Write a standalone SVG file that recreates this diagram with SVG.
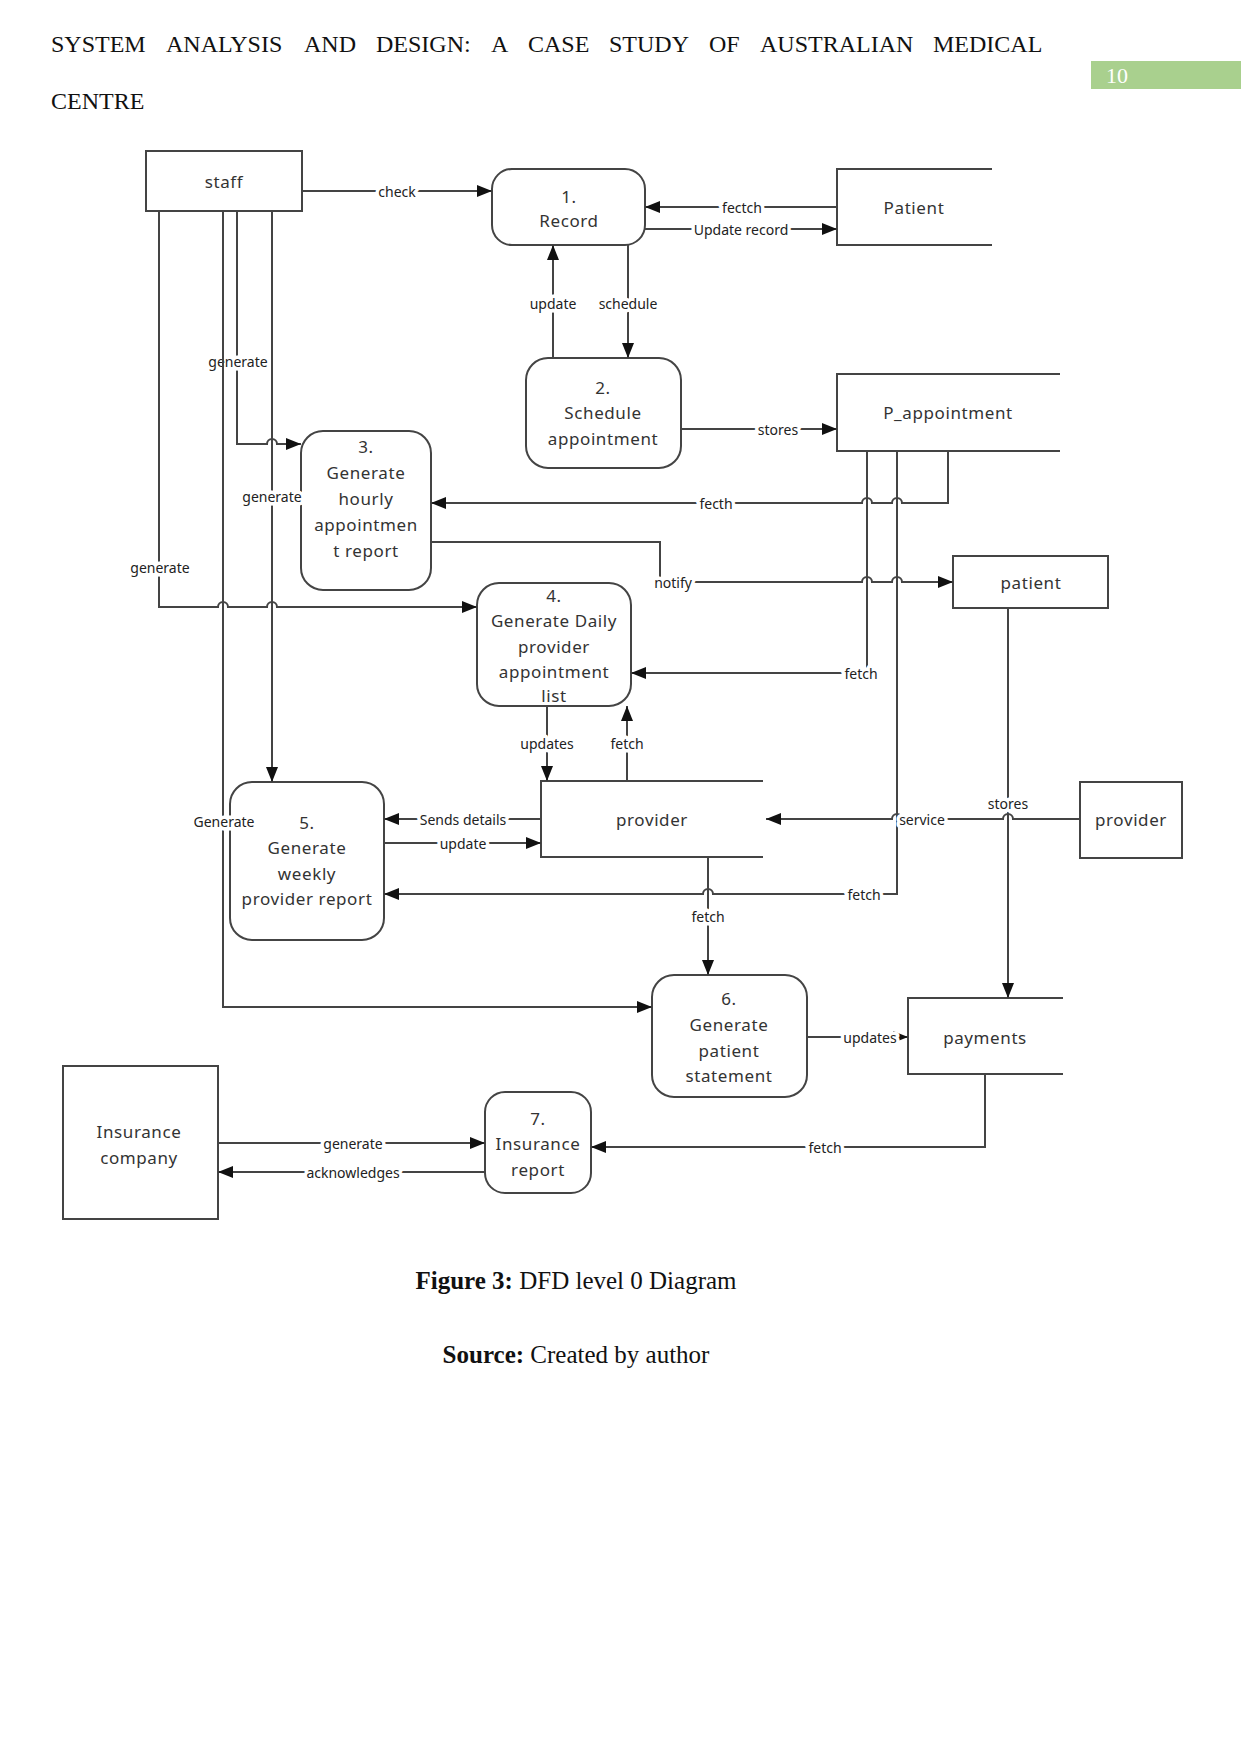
<svg xmlns="http://www.w3.org/2000/svg" width="1241" height="1754" viewBox="0 0 1241 1754">
<style>
.hdr{font-family:"Liberation Serif",serif;font-size:24px;fill:#111}
.cap{font-family:"Liberation Serif",serif;font-size:25px;fill:#111;text-anchor:middle}
.box{fill:#fff;stroke:#444;stroke-width:2}
.store{fill:none;stroke:#444;stroke-width:2}
.nt{font-family:"Noto Sans","DejaVu Sans",sans-serif;font-size:17px;fill:#333;text-anchor:middle;dominant-baseline:central;letter-spacing:0.6px}
.c{fill:none;stroke:#444;stroke-width:2}
.a{marker-end:url(#arr)}
.lb{font-family:"Noto Sans","DejaVu Sans",sans-serif;font-size:14px;fill:#222;text-anchor:middle;dominant-baseline:central;stroke:#fff;stroke-width:7px;paint-order:stroke;stroke-linejoin:round}
</style>
<defs>
<marker id="arr" markerUnits="userSpaceOnUse" markerWidth="15" markerHeight="12" refX="15" refY="6" orient="auto">
<path d="M0,0 L15,6 L0,12 z" fill="#111"/>
</marker>
</defs>
<rect width="1241" height="1754" fill="#fff"/>

<g id="header">
<text class="hdr" y="52"><tspan x="51">SYSTEM</tspan><tspan x="166">ANALYSIS</tspan><tspan x="304">AND</tspan><tspan x="376">DESIGN:</tspan><tspan x="491">A</tspan><tspan x="528">CASE</tspan><tspan x="609">STUDY</tspan><tspan x="709">OF</tspan><tspan x="760">AUSTRALIAN</tspan><tspan x="933">MEDICAL</tspan></text>
<text class="hdr" x="51" y="109">CENTRE</text>
<rect x="1091" y="61" width="150" height="28" fill="#a9d08e"/>
<text x="1106" y="83" font-family="Liberation Serif, serif" font-size="22" fill="#fff">10</text>
</g>

<g id="staff">
<rect class="box" x="146" y="151" width="156" height="60"/>
<text class="nt" x="224" y="181">staff</text>
</g>
<g id="p1">
<rect class="box" x="492" y="169" width="153" height="76" rx="20"/>
<text class="nt" x="569" y="196">1.</text>
<text class="nt" x="569" y="220">Record</text>
</g>
<g id="Patient">
<path class="store" d="M992,169 H837 V245 H992"/>
<text class="nt" x="914" y="207">Patient</text>
</g>
<g id="p2">
<rect class="box" x="526" y="358" width="155" height="110" rx="22"/>
<text class="nt" x="603" y="387">2.</text>
<text class="nt" x="603" y="412">Schedule</text>
<text class="nt" x="603" y="438">appointment</text>
</g>
<g id="P_appointment">
<path class="store" d="M1060,374 H837 V451 H1060"/>
<text class="nt" x="948" y="412">P_appointment</text>
</g>
<g id="p3">
<rect class="box" x="301" y="431" width="130" height="159" rx="22"/>
<text class="nt" x="366" y="446">3.</text>
<text class="nt" x="366" y="472">Generate</text>
<text class="nt" x="366" y="498">hourly</text>
<text class="nt" x="366" y="524">appointmen</text>
<text class="nt" x="366" y="550">t report</text>
</g>
<g id="patient">
<rect class="box" x="953" y="556" width="155" height="52"/>
<text class="nt" x="1031" y="582">patient</text>
</g>
<g id="p4">
<rect class="box" x="477" y="583" width="154" height="123" rx="22"/>
<text class="nt" x="554" y="595">4.</text>
<text class="nt" x="554" y="620">Generate Daily</text>
<text class="nt" x="554" y="646">provider</text>
<text class="nt" x="554" y="671">appointment</text>
<text class="nt" x="554" y="695">list</text>
</g>
<g id="provider_store">
<path class="store" d="M763,781 H541 V857 H763"/>
<text class="nt" x="652" y="819">provider</text>
</g>
<g id="provider_ext">
<rect class="box" x="1080" y="782" width="102" height="76"/>
<text class="nt" x="1131" y="819">provider</text>
</g>
<g id="p5">
<rect class="box" x="230" y="782" width="154" height="158" rx="22"/>
<text class="nt" x="307" y="822">5.</text>
<text class="nt" x="307" y="847">Generate</text>
<text class="nt" x="307" y="873">weekly</text>
<text class="nt" x="307" y="898">provider report</text>
</g>
<g id="p6">
<rect class="box" x="652" y="975" width="155" height="122" rx="22"/>
<text class="nt" x="729" y="998">6.</text>
<text class="nt" x="729" y="1024">Generate</text>
<text class="nt" x="729" y="1050">patient</text>
<text class="nt" x="729" y="1075">statement</text>
</g>
<g id="payments">
<path class="store" d="M1063,998 H908 V1074 H1063"/>
<text class="nt" x="985" y="1037">payments</text>
</g>
<g id="insurance">
<rect class="box" x="63" y="1066" width="155" height="153"/>
<text class="nt" x="139" y="1131">Insurance</text>
<text class="nt" x="139" y="1157">company</text>
</g>
<g id="p7">
<rect class="box" x="485" y="1092" width="106" height="101" rx="20"/>
<text class="nt" x="538" y="1118">7.</text>
<text class="nt" x="538" y="1143">Insurance</text>
<text class="nt" x="538" y="1169">report</text>
</g>

<g id="connectors">
<path class="c a" d="M302,191 H492"/>
<text class="lb" x="397" y="191">check</text>
<path class="c a" d="M837,207 H645"/>
<text class="lb" x="742" y="207">fectch</text>
<path class="c a" d="M645,229 H837"/>
<text class="lb" x="741" y="229">Update record</text>
<path class="c a" d="M553,358 V245"/>
<text class="lb" x="553" y="303">update</text>
<path class="c a" d="M628,245 V358"/>
<text class="lb" x="628" y="303">schedule</text>
<path class="c a" d="M681,429 H837"/>
<text class="lb" x="778" y="429">stores</text>
<path class="c a" d="M948,451 V503 H902 A5,5 0 0 0 892,503 H872 A5,5 0 0 0 862,503 H431"/>
<text class="lb" x="716" y="503">fecth</text>
<path class="c a" d="M431,542 H660 V582 H862 A5,5 0 0 1 872,582 H892 A5,5 0 0 1 902,582 H953"/>
<text class="lb" x="673" y="582">notify</text>
<path class="c a" d="M867,451 V673 H631"/>
<text class="lb" x="861" y="673">fetch</text>
<path class="c a" d="M897,451 V894 H713 A5,5 0 0 0 703,894 H384"/>
<text class="lb" x="864" y="894">fetch</text>
<path class="c a" d="M237,211 V444 H267 A5,5 0 0 1 277,444 H301"/>
<text class="lb" x="238" y="361">generate</text>
<path class="c a" d="M272,211 V782"/>
<text class="lb" x="272" y="496">generate</text>
<path class="c a" d="M159,211 V607 H218 A5,5 0 0 1 228,607 H267 A5,5 0 0 1 277,607 H477"/>
<text class="lb" x="160" y="567">generate</text>
<path class="c a" d="M223,211 V1007 H652"/>
<text class="lb" x="224" y="821">Generate</text>
<path class="c a" d="M547,706 V781"/>
<text class="lb" x="547" y="743">updates</text>
<path class="c a" d="M627,781 V706"/>
<text class="lb" x="627" y="743">fetch</text>
<path class="c a" d="M541,819 H384"/>
<text class="lb" x="463" y="819">Sends details</text>
<path class="c a" d="M384,843 H541"/>
<text class="lb" x="463" y="843">update</text>
<path class="c a" d="M708,857 V975"/>
<text class="lb" x="708" y="916">fetch</text>
<path class="c a" d="M1080,819 H1013 A5,5 0 0 0 1003,819 H902 A5,5 0 0 0 892,819 H766"/>
<text class="lb" x="922" y="819">service</text>
<path class="c a" d="M1008,608 V998"/>
<text class="lb" x="1008" y="803">stores</text>
<path class="c a" d="M807,1037 H908"/>
<text class="lb" x="870" y="1037">updates</text>
<path class="c a" d="M985,1074 V1147 H591"/>
<text class="lb" x="825" y="1147">fetch</text>
<path class="c a" d="M218,1143 H485"/>
<text class="lb" x="353" y="1143">generate</text>
<path class="c a" d="M485,1172 H218"/>
<text class="lb" x="353" y="1172">acknowledges</text>
</g>

<g id="caption">
<text class="cap" x="576" y="1289"><tspan font-weight="bold">Figure 3:</tspan> DFD level 0 Diagram</text>
<text class="cap" x="576" y="1363"><tspan font-weight="bold">Source:</tspan> Created by author</text>
</g>
</svg>
